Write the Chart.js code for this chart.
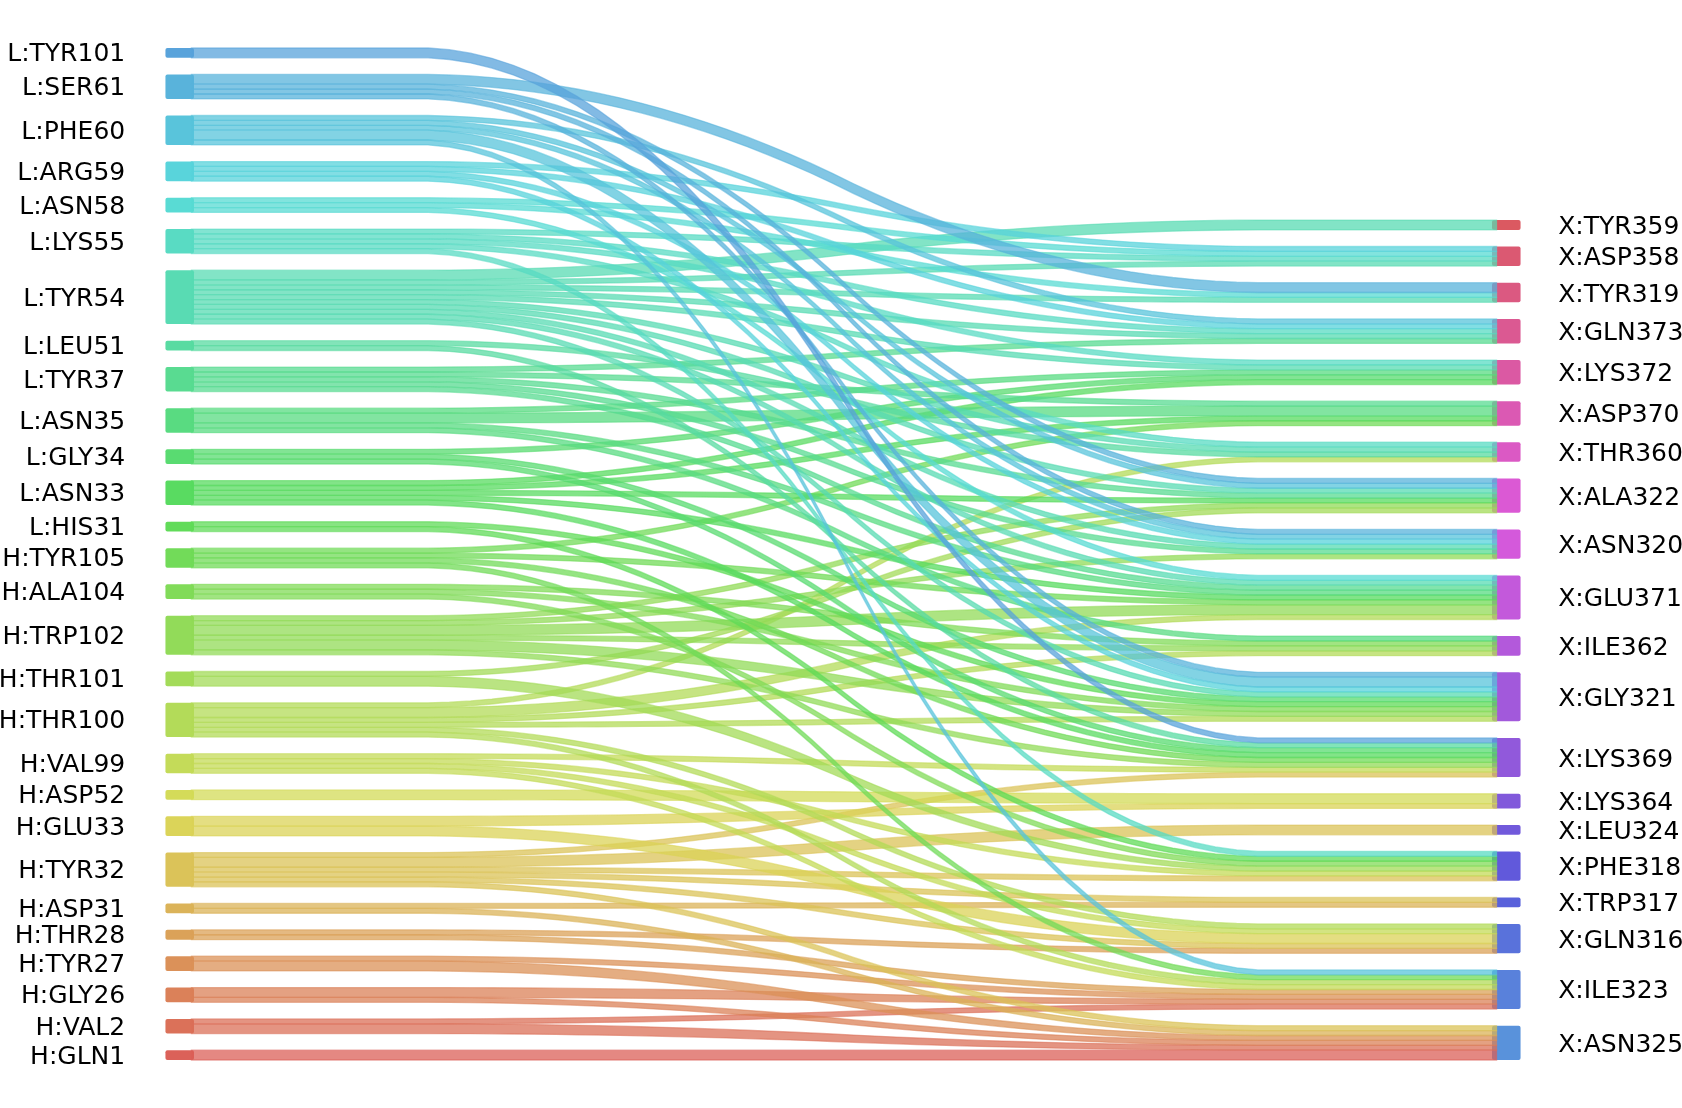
<!DOCTYPE html>
<html><head><meta charset="utf-8">
<script src="https://cdn.jsdelivr.net/npm/chart.js@4.4.0/dist/chart.umd.min.js"></script>
<style>html,body{margin:0;padding:0;background:#fff;}#wrap{width:1682px;height:1108px;position:relative;}</style>
</head><body><div id="wrap"><canvas id="c" width="1682" height="1108"></canvas></div>
<script>
// Node labels, listed top to bottom as shown
const leftLabels = ['L:TYR101','L:SER61','L:PHE60','L:ARG59','L:ASN58','L:LYS55','L:TYR54','L:LEU51','L:TYR37','L:ASN35','L:GLY34','L:ASN33','L:HIS31','H:TYR105','H:ALA104','H:TRP102','H:THR101','H:THR100','H:VAL99','H:ASP52','H:GLU33','H:TYR32','H:ASP31','H:THR28','H:TYR27','H:GLY26','H:VAL2','H:GLN1'];
const rightLabels = ['X:TYR359','X:ASP358','X:TYR319','X:GLN373','X:LYS372','X:ASP370','X:THR360','X:ALA322','X:ASN320','X:GLU371','X:ILE362','X:GLY321','X:LYS369','X:LYS364','X:LEU324','X:PHE318','X:TRP317','X:GLN316','X:ILE323','X:ASN325'];

// Links (flows)
const linkSource = ['L:TYR54','L:ARG59','L:ASN58','L:LYS55','L:TYR54','L:SER61','L:ASN58','L:TYR54','L:PHE60','L:ARG59','L:LYS55','L:TYR54','L:TYR37','L:LYS55','L:TYR54','L:ASN35','L:GLY34','L:ASN33','L:TYR37','L:ASN35','L:ASN33','H:TYR105','L:LYS55','L:TYR54','L:LEU51','H:THR100','L:SER61','L:PHE60','L:TYR54','L:TYR37','L:ASN33','H:TRP102','H:THR101','L:SER61','L:PHE60','L:ARG59','L:TYR54','L:TYR37','H:TRP102','L:ASN58','L:TYR54','L:TYR37','L:ASN35','L:ASN33','H:TYR105','H:TRP102','H:THR100','L:ASN35','H:ALA104','H:TRP102','H:THR100','L:SER61','L:PHE60','L:ARG59','L:TYR54','L:GLY34','L:HIS31','H:ALA104','H:TRP102','H:THR100','L:TYR101','L:LEU51','L:GLY34','L:ASN33','H:TYR105','H:TRP102','H:VAL99','H:TYR32','H:ASP52','H:GLU33','H:TYR32','L:LYS55','L:HIS31','H:ALA104','H:THR101','H:VAL99','H:TYR32','H:TYR32','H:ASP31','H:THR100','H:VAL99','H:GLU33','H:TYR32','H:THR28','L:PHE60','H:TYR105','H:THR100','H:VAL99','H:THR28','H:TYR27','H:GLY26','H:VAL2','H:TYR32','H:ASP31','H:TYR27','H:GLY26','H:VAL2','H:GLN1'];
const linkTarget = ['X:TYR359','X:ASP358','X:ASP358','X:ASP358','X:ASP358','X:TYR319','X:TYR319','X:TYR319','X:GLN373','X:GLN373','X:GLN373','X:GLN373','X:GLN373','X:LYS372','X:LYS372','X:LYS372','X:LYS372','X:LYS372','X:ASP370','X:ASP370','X:ASP370','X:ASP370','X:THR360','X:THR360','X:THR360','X:THR360','X:ALA322','X:ALA322','X:ALA322','X:ALA322','X:ALA322','X:ALA322','X:ALA322','X:ASN320','X:ASN320','X:ASN320','X:ASN320','X:ASN320','X:ASN320','X:GLU371','X:GLU371','X:GLU371','X:GLU371','X:GLU371','X:GLU371','X:GLU371','X:GLU371','X:ILE362','X:ILE362','X:ILE362','X:ILE362','X:GLY321','X:GLY321','X:GLY321','X:GLY321','X:GLY321','X:GLY321','X:GLY321','X:GLY321','X:GLY321','X:LYS369','X:LYS369','X:LYS369','X:LYS369','X:LYS369','X:LYS369','X:LYS369','X:LYS369','X:LYS364','X:LYS364','X:LEU324','X:PHE318','X:PHE318','X:PHE318','X:PHE318','X:PHE318','X:PHE318','X:TRP317','X:TRP317','X:GLN316','X:GLN316','X:GLN316','X:GLN316','X:GLN316','X:ILE323','X:ILE323','X:ILE323','X:ILE323','X:ILE323','X:ILE323','X:ILE323','X:ILE323','X:ASN325','X:ASN325','X:ASN325','X:ASN325','X:ASN325','X:ASN325'];
const linkLeftWeight = [2,1,1,1,1,2,1,1,1,1,1,1,1,1,1,1,1,1,1,2,1,1,1,1,1,1,1,1,1,1,1,1,1,1,1,1,1,1,1,1,1,1,1,1,1,2,2,1,1,1,1,1,2,1,1,1,1,1,2,1,2,1,1,1,1,1,1,1,2,2,2,1,1,1,2,1,1,1,1,1,1,2,1,1,1,1,1,1,1,1,2,1,1,1,2,1,2,2];
const linkRightWeight = [2,1,1,1,1,2,1,1,1,1,1,1,1,1,1,1,1,1,1,2,1,1,1,1,1,1,1,1,1,1,1,1,1,1,1,1,1,1,1,1,1,1,1,1,1,2,1,1,1,1,1,1,2,1,1,1,1,1,1,1,1,1,1,1,1,1,1,1,2,1,2,1,1,1,1,1,1,1,1,1,1,2,1,1,1,1,1,1,1,1,1,1,1,1,1,1,1,2];

const GAP = 3.39;         // vertical gap between nodes (weight units)
const XMAX = 100;         // strip length
const NODE_W = 2.2;       // node width

const leftOrder = leftLabels.slice().reverse();   // bottom first
const rightOrder = rightLabels.slice().reverse();
const allLabels = leftOrder.concat(rightOrder);
const colorOf = {};
allLabels.forEach((l, i) => {
  const h = ((i / allLabels.length) + 0.01) % 1 * 360;
  colorOf[l] = h;
});
function col(l, a) { return 'hsla(' + colorOf[l].toFixed(2) + ',65%,60%,' + a + ')'; }

function stackNodes(order, wArr, key) {
  const res = {}; let prevTop = null;
  order.forEach(lab => {
    let tot = 0;
    for (let i = 0; i < key.length; i++) if (key[i] === lab) tot += wArr[i];
    const bottom = prevTop === null ? 0 : prevTop + GAP;
    res[lab] = { bottom: bottom, top: bottom + tot, cur: bottom };
    prevTop = bottom + tot;
  });
  return res;
}
function smooth(a, b) {
  let arr = [];
  for (let i = 0; i < 50; i++) arr.push(a);
  for (let i = 0; i < 50; i++) arr.push(b);
  for (let p = 0; p < 2; p++) {
    const out = [];
    for (let i = 0; i + 20 <= arr.length; i++) {
      let s = 0; for (let k = 0; k < 20; k++) s += arr[i + k] * 0.05;
      out.push(s);
    }
    arr = out;
  }
  return arr;
}

const sankeyPlugin = {
  id: 'sankey',
  afterDatasetsDraw(chart) {
    const ctx = chart.ctx, xs = chart.scales.x, ys = chart.scales.y;
    const X = v => xs.getPixelForValue(v), Y = v => ys.getPixelForValue(v);
    const L = stackNodes(leftOrder, linkLeftWeight, linkSource);
    const R = stackNodes(rightOrder, linkRightWeight, linkTarget);
    ctx.save();
    // nodes
    leftOrder.forEach(l => {
      ctx.fillStyle = col(l, 0.99);
      ctx.beginPath();
      ctx.roundRect(X(-NODE_W), Y(L[l].top), X(0) - X(-NODE_W), Y(L[l].bottom) - Y(L[l].top), 2);
      ctx.fill();
    });
    rightOrder.forEach(r => {
      ctx.fillStyle = col(r, 0.99);
      ctx.beginPath();
      ctx.roundRect(X(XMAX), Y(R[r].top), X(XMAX + NODE_W) - X(XMAX), Y(R[r].bottom) - Y(R[r].top), 2);
      ctx.fill();
    });
    // strips
    leftOrder.forEach(l => {
      rightOrder.forEach(r => {
        for (let i = 0; i < linkSource.length; i++) {
          if (linkSource[i] !== l || linkTarget[i] !== r) continue;
          const wl = linkLeftWeight[i], wr = linkRightWeight[i];
          const yd = smooth(L[l].cur, R[r].cur);
          const yu = smooth(L[l].cur + wl, R[r].cur + wr);
          L[l].cur += wl; R[r].cur += wr;
          const n = yd.length;
          const xv = k => XMAX * k / (n - 1);
          ctx.beginPath();
          ctx.moveTo(X(-0.2), Y(yd[0]));
          for (let k = 0; k < n; k++) ctx.lineTo(X(xv(k)), Y(yd[k]));
          ctx.lineTo(X(XMAX + 0.35), Y(yd[n - 1]));
          ctx.lineTo(X(XMAX + 0.35), Y(yu[n - 1]));
          for (let k = n - 1; k >= 0; k--) ctx.lineTo(X(xv(k)), Y(yu[k]));
          ctx.lineTo(X(-0.2), Y(yu[0]));
          ctx.closePath();
          ctx.fillStyle = col(l, 0.74);
          ctx.fill();
          ctx.strokeStyle = col(l, 0.55);
          ctx.lineWidth = 1.3;
          ctx.stroke();
        }
      });
    });
    // labels
    ctx.fillStyle = '#000';
    ctx.font = '25px "DejaVu Sans"';
    ctx.textBaseline = 'alphabetic';
    ctx.textAlign = 'right';
    leftOrder.forEach(l => {
      ctx.fillText(l, X(-5.3), Y((L[l].bottom + L[l].top) / 2) + 8.5);
    });
    ctx.textAlign = 'left';
    rightOrder.forEach(r => {
      ctx.fillText(r, X(XMAX + 5.1), Y((R[r].bottom + R[r].top) / 2) + 9);
    });
    ctx.restore();
  }
};

// axis ranges so that the layout fills the page like the original
const Lstack = stackNodes(leftOrder, linkLeftWeight, linkSource);
const leftTop = Lstack[leftOrder[leftOrder.length - 1]].top;
const pxPerY = (1060 - 48) / leftTop;
const yMin = -(1108 - 1060) / pxPerY, yMax = yMin + 1108 / pxPerY;
const pxPerX = (1492 - 194) / XMAX;
const xMin = -194 / pxPerX, xMax = xMin + 1682 / pxPerX;

new Chart(document.getElementById('c'), {
  type: 'scatter',
  data: { datasets: [{ data: [], pointRadius: 0 }] },
  options: {
    responsive: false, animation: false, events: [],
    layout: { padding: 0 },
    plugins: { legend: { display: false }, tooltip: { enabled: false } },
    scales: {
      x: { type: 'linear', min: xMin, max: xMax, display: false },
      y: { type: 'linear', min: yMin, max: yMax, display: false }
    }
  },
  plugins: [sankeyPlugin]
});
</script></body></html>
